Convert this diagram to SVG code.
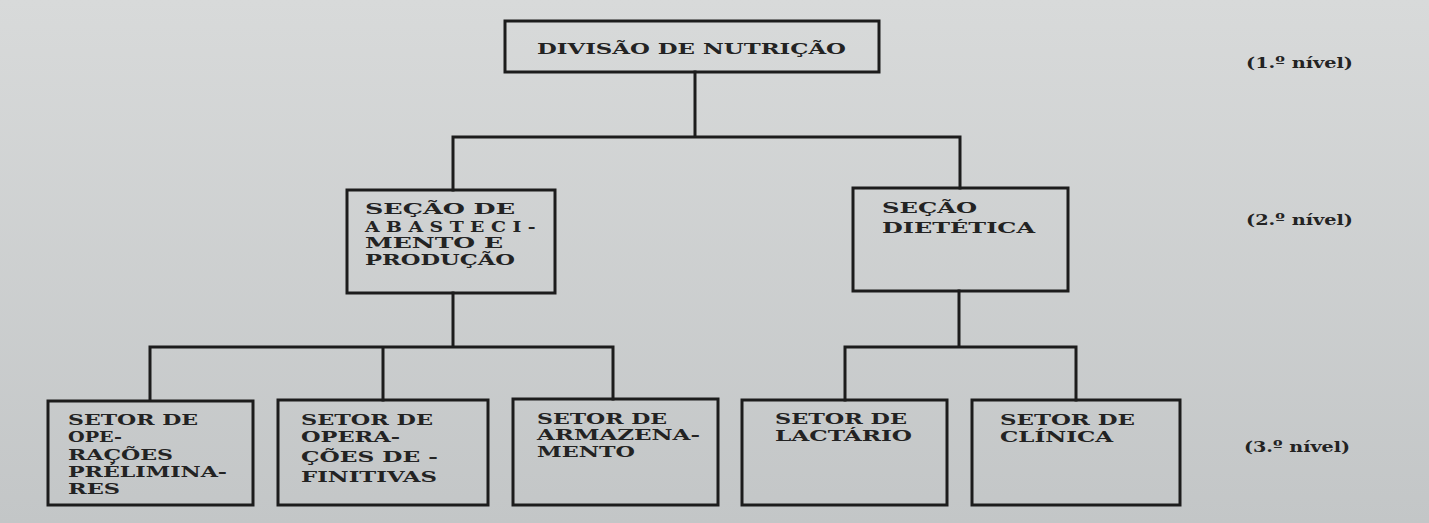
<svg xmlns="http://www.w3.org/2000/svg" width="1429" height="523" viewBox="0 0 1429 523">
  <defs>
    <linearGradient id="bg" x1="0" y1="0" x2="0" y2="1">
      <stop offset="0" stop-color="#d8dada"/>
      <stop offset="1" stop-color="#c3c6c7"/>
    </linearGradient>
    <style>
      .box { fill: none; stroke: #1c1c1c; stroke-width: 3; }
      .conn { fill: none; stroke: #1c1c1c; stroke-width: 3; stroke-linecap: square; }
      text { font-family: "DejaVu Serif", "Liberation Serif", serif; font-weight: bold; fill: #232323; }
      .t1 { font-size: 15px; }
      .t2 { font-size: 14.5px; }
      .t2b { font-size: 15.5px; }
      .t3 { font-size: 15px; }
      .lvl { font-size: 15px; }
    </style>
  </defs>
  <rect width="1429" height="523" fill="url(#bg)"/>

  <g id="connectors">
    <path class="conn" d="M695 72 V137 M453 137 H960 M453 137 V190 M960 137 V188"/>
    <path class="conn" d="M453 293 V347 M150 347 H613 M150 347 V400 M383 347 V400 M613 347 V399"/>
    <path class="conn" d="M959 291 V347 M845 347 H1076 M845 347 V400 M1076 347 V400"/>
  </g>

  <g id="n-divisao">
    <rect class="box" x="505" y="21" width="374" height="51"/>
    <text class="t1" x="537" y="54" textLength="309" lengthAdjust="spacingAndGlyphs">DIVISÃO DE NUTRIÇÃO</text>
  </g>

  <g id="n-abastecimento">
    <rect class="box" x="347" y="190" width="208" height="103"/>
    <text class="t2" x="365" y="214" textLength="150" lengthAdjust="spacingAndGlyphs">SEÇÃO  DE</text>
    <text class="t2" x="365" y="232" textLength="177" lengthAdjust="spacingAndGlyphs" letter-spacing="5">ABASTECI-</text>
    <text class="t2" x="365" y="248" textLength="138" lengthAdjust="spacingAndGlyphs">MENTO  E</text>
    <text class="t2" x="365" y="265" textLength="150" lengthAdjust="spacingAndGlyphs">PRODUÇÃO</text>
  </g>

  <g id="n-dietetica">
    <rect class="box" x="853" y="188" width="215" height="103"/>
    <text class="t2b" x="882" y="213" textLength="95" lengthAdjust="spacingAndGlyphs">SEÇÃO</text>
    <text class="t2b" x="882" y="233" textLength="153" lengthAdjust="spacingAndGlyphs">DIETÉTICA</text>
  </g>

  <g id="n-preliminares">
    <rect class="box" x="48" y="401" width="205" height="104"/>
    <text class="t3" x="68" y="425" textLength="130" lengthAdjust="spacingAndGlyphs">SETOR DE</text>
    <text class="t3" x="68" y="442" textLength="54" lengthAdjust="spacingAndGlyphs">OPE-</text>
    <text class="t3" x="68" y="460" textLength="105" lengthAdjust="spacingAndGlyphs">RAÇÕES</text>
    <text class="t3" x="68" y="477" textLength="159" lengthAdjust="spacingAndGlyphs">PRÉLIMINA-</text>
    <text class="t3" x="68" y="494" textLength="52" lengthAdjust="spacingAndGlyphs">RES</text>
  </g>

  <g id="n-definitivas">
    <rect class="box" x="278" y="400" width="210" height="105"/>
    <text class="t3" x="301" y="425" textLength="132" lengthAdjust="spacingAndGlyphs">SETOR DE</text>
    <text class="t3" x="301" y="442" textLength="99" lengthAdjust="spacingAndGlyphs">OPERA-</text>
    <text class="t3" x="301" y="462" textLength="137" lengthAdjust="spacingAndGlyphs">ÇÕES  DE -</text>
    <text class="t3" x="301" y="482" textLength="136" lengthAdjust="spacingAndGlyphs">FINITIVAS</text>
  </g>

  <g id="n-armazenamento">
    <rect class="box" x="513" y="399" width="205" height="106"/>
    <text class="t3" x="537" y="424" textLength="130" lengthAdjust="spacingAndGlyphs">SETOR DE</text>
    <text class="t3" x="537" y="440" textLength="163" lengthAdjust="spacingAndGlyphs">ARMAZENA-</text>
    <text class="t3" x="537" y="457" textLength="98" lengthAdjust="spacingAndGlyphs">MENTO</text>
  </g>

  <g id="n-lactario">
    <rect class="box" x="742" y="400" width="205" height="105"/>
    <text class="t3" x="775" y="424" textLength="132" lengthAdjust="spacingAndGlyphs">SETOR DE</text>
    <text class="t3" x="775" y="441" textLength="137" lengthAdjust="spacingAndGlyphs">LACTÁRIO</text>
  </g>

  <g id="n-clinica">
    <rect class="box" x="972" y="400" width="208" height="105"/>
    <text class="t3" x="1000" y="425" textLength="135" lengthAdjust="spacingAndGlyphs">SETOR DE</text>
    <text class="t3" x="1000" y="442" textLength="113" lengthAdjust="spacingAndGlyphs">CLÍNICA</text>
  </g>

  <g id="levels">
    <text class="lvl" x="1246" y="68" textLength="107" lengthAdjust="spacingAndGlyphs">(1.º nível)</text>
    <text class="lvl" x="1246" y="225" textLength="107" lengthAdjust="spacingAndGlyphs">(2.º nível)</text>
    <text class="lvl" x="1244" y="452" textLength="106" lengthAdjust="spacingAndGlyphs">(3.º  nível)</text>
  </g>
</svg>
